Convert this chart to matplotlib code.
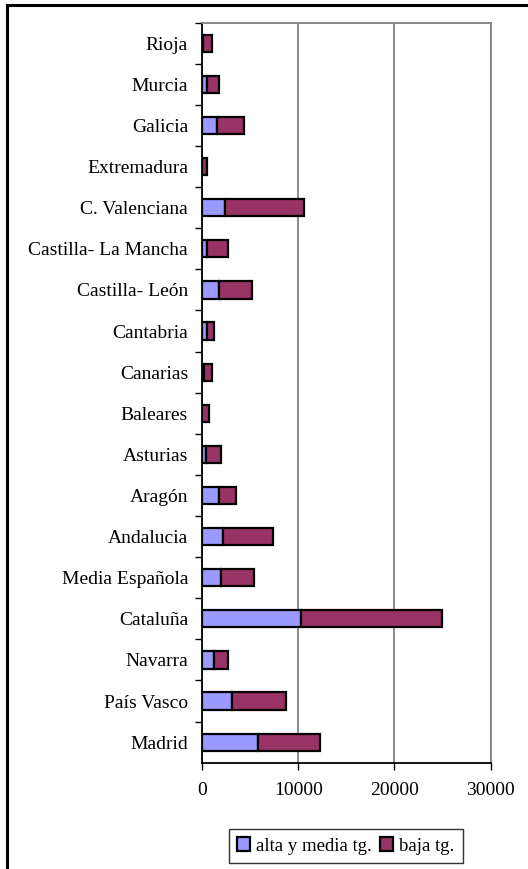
import numpy as np
import matplotlib
matplotlib.use('Agg')
import matplotlib.pyplot as plt
from matplotlib.lines import Line2D
from matplotlib.ticker import FixedLocator

plt.rcParams['font.family'] = ['Liberation Serif', 'DejaVu Serif']

# regions, bottom to top as drawn
regions = ['Madrid', 'País Vasco', 'Navarra', 'Cataluña', 'Media Española',
           'Andalucia', 'Aragón', 'Asturias', 'Baleares', 'Canarias',
           'Cantabria', 'Castilla- León', 'Castilla- La Mancha',
           'C. Valenciana', 'Extremadura', 'Galicia', 'Murcia', 'Rioja']
alta = [5780, 3070, 1220, 10270, 1950, 2160, 1810, 380, 50, 170,
        520, 1810, 520, 2370, 50, 1600, 520, 100]
baja = [6480, 5610, 1490, 14630, 3480, 5250, 1770, 1600, 680, 910,
        730, 3410, 2190, 8280, 470, 2750, 1260, 980]
xticks = [0, 10000, 20000, 30000]
series_names = ['alta y media tg.', 'baja tg.']
colors = ['#9999FF', '#993366']

W, H = 528, 869
fs = 14
fig = plt.figure(figsize=(W / 100, H / 100), dpi=100)
ax = fig.add_axes([202 / W, 1 - 762.7 / H, 288.7 / W, 740 / H])

y = np.arange(len(regions))
b1 = ax.barh(y, alta, height=0.42, color=colors[0], edgecolor='black',
             linewidth=1.6, label=series_names[0], zorder=3)
b2 = ax.barh(y, baja, left=alta, height=0.42, color=colors[1],
             edgecolor='black', linewidth=1.6, label=series_names[1], zorder=3)

ax.set_xlim(0, 30000)
ax.set_ylim(-0.5, len(regions) - 0.5)
ax.set_xticks(xticks)
ax.set_xticklabels([str(t) for t in xticks], fontsize=fs)
ax.set_yticks(y)
ax.set_yticklabels(regions, fontsize=fs)
ax.yaxis.set_minor_locator(FixedLocator(np.arange(len(regions)) + 0.5))
ax.tick_params(axis='y', which='major', length=0, pad=10)
ax.tick_params(axis='y', which='minor', length=5, width=1, color='black')
ax.tick_params(axis='x', length=5, width=1, pad=9)

ax.grid(axis='x', color='#808080', linewidth=1.3, zorder=0)
for side in ['left', 'bottom']:
    ax.spines[side].set_color('black')
    ax.spines[side].set_linewidth(1.3)
for side in ['top', 'right']:
    ax.spines[side].set_color('#808080')
    ax.spines[side].set_linewidth(1.3)

leg = fig.legend(handles=[b1, b2], loc='center',
                 bbox_to_anchor=(345.8 / W, 1 - 846 / H), ncol=2,
                 fontsize=13.5, frameon=True, fancybox=False,
                 handlelength=0.7, handleheight=0.7, handletextpad=0.3,
                 columnspacing=0.45, borderpad=0.45, borderaxespad=0)
leg.get_frame().set_edgecolor('black')
leg.get_frame().set_linewidth(1.0)

# outer chart frame (clipped at right and bottom like the source)
fig.add_artist(Line2D([7 / W, 7 / W], [1 - 5 / H, 0], color='black', lw=2.2,
                      transform=fig.transFigure))
fig.add_artist(Line2D([7 / W, 1], [1 - 5 / H, 1 - 5 / H], color='black', lw=2.2,
                      transform=fig.transFigure))

fig.savefig('out.png', dpi=100)
